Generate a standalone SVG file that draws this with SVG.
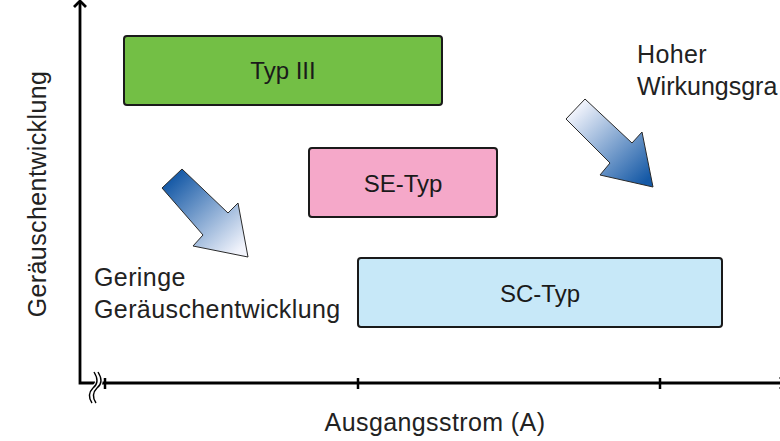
<svg xmlns="http://www.w3.org/2000/svg" width="780" height="441" viewBox="0 0 780 441">
  <style>
    .lbl { font-family: "Liberation Sans", Arial, sans-serif; font-size: 25px; letter-spacing: 0.4px; fill: #222; }
    .box-lbl { font-family: "Liberation Sans", Arial, sans-serif; font-size: 24px; fill: #1a1a1a; text-anchor: middle; }
    .box { stroke: #1a1a1a; stroke-width: 2; }
    .axis { stroke: #000; stroke-width: 2.8; fill: none; }
    .tick { stroke: #000; stroke-width: 2.5; }
    .arrow { stroke: #2a2a2a; stroke-width: 1; stroke-linejoin: miter; }
  </style>
  <defs>
    <linearGradient id="gradDown" gradientUnits="userSpaceOnUse" x1="172" y1="178" x2="240" y2="250">
      <stop offset="0" stop-color="#1559a6"/>
      <stop offset="1" stop-color="#f2f4fc"/>
    </linearGradient>
    <linearGradient id="gradUp" gradientUnits="userSpaceOnUse" x1="575" y1="109" x2="645" y2="182">
      <stop offset="0" stop-color="#f2f4fc"/>
      <stop offset="1" stop-color="#1559a6"/>
    </linearGradient>
  </defs>

  <rect width="780" height="441" fill="#ffffff"/>

  <!-- axes -->
  <g id="axes">
    <polyline class="axis" points="80,1 80,383 786,383"/>
    <polyline class="axis" points="74,7 80,1 86,7"/>
    <polyline class="axis" points="780,377 786,383 780,389"/>
    <!-- axis break -->
    <path d="M96,372 C101,380 99,385 95,388 C91,392 90,397 94,403" stroke="#fff" stroke-width="7" fill="none"/>
    <path d="M94,372 C99,380 97,385 93,388 C89,392 88,397 92,403" stroke="#000" stroke-width="1.4" fill="none"/>
    <path d="M98,372 C103,380 101,385 97,388 C93,392 92,397 96,403" stroke="#000" stroke-width="1.4" fill="none"/>
    <line class="tick" x1="105" y1="378" x2="105" y2="389"/>
    <line class="tick" x1="358" y1="378" x2="358" y2="389"/>
    <line class="tick" x1="660" y1="378" x2="660" y2="389"/>
  </g>

  <!-- axis titles -->
  <text class="lbl" text-anchor="middle" transform="translate(46,194) rotate(-90)">Geräuschentwicklung</text>
  <text class="lbl" x="435" y="431" text-anchor="middle">Ausgangsstrom (A)</text>

  <!-- nodes -->
  <g id="typ3">
    <rect class="box" x="124" y="36" width="318" height="69" rx="3" fill="#73bf45"/>
    <text class="box-lbl" x="283" y="79">Typ III</text>
  </g>
  <g id="se-typ">
    <rect class="box" x="309" y="148" width="188" height="69" rx="3" fill="#f5a8c9"/>
    <text class="box-lbl" x="403" y="192">SE-Typ</text>
  </g>
  <g id="sc-typ">
    <rect class="box" x="358" y="258" width="364" height="69" rx="3" fill="#c7e8f8"/>
    <text class="box-lbl" x="540" y="302">SC-Typ</text>
  </g>

  <!-- trend arrows -->
  <g id="connectors">
    <polygon class="arrow" fill="url(#gradDown)" points="162,188 182,169 228,213 238,203 248,257 193,246 203,235"/>
    <polygon class="arrow" fill="url(#gradUp)" points="566,119 585,99 632,143 642,132 653,187 600,175 610,163"/>
  </g>

  <!-- annotations -->
  <g id="low-noise">
    <text class="lbl" x="94" y="286">Geringe</text>
    <text class="lbl" x="94" y="318">Geräuschentwicklung</text>
  </g>
  <g id="high-efficiency">
    <text class="lbl" x="637" y="63">Hoher</text>
    <text class="lbl" x="637" y="95" style="letter-spacing:0">Wirkungsgra</text>
  </g>
</svg>
